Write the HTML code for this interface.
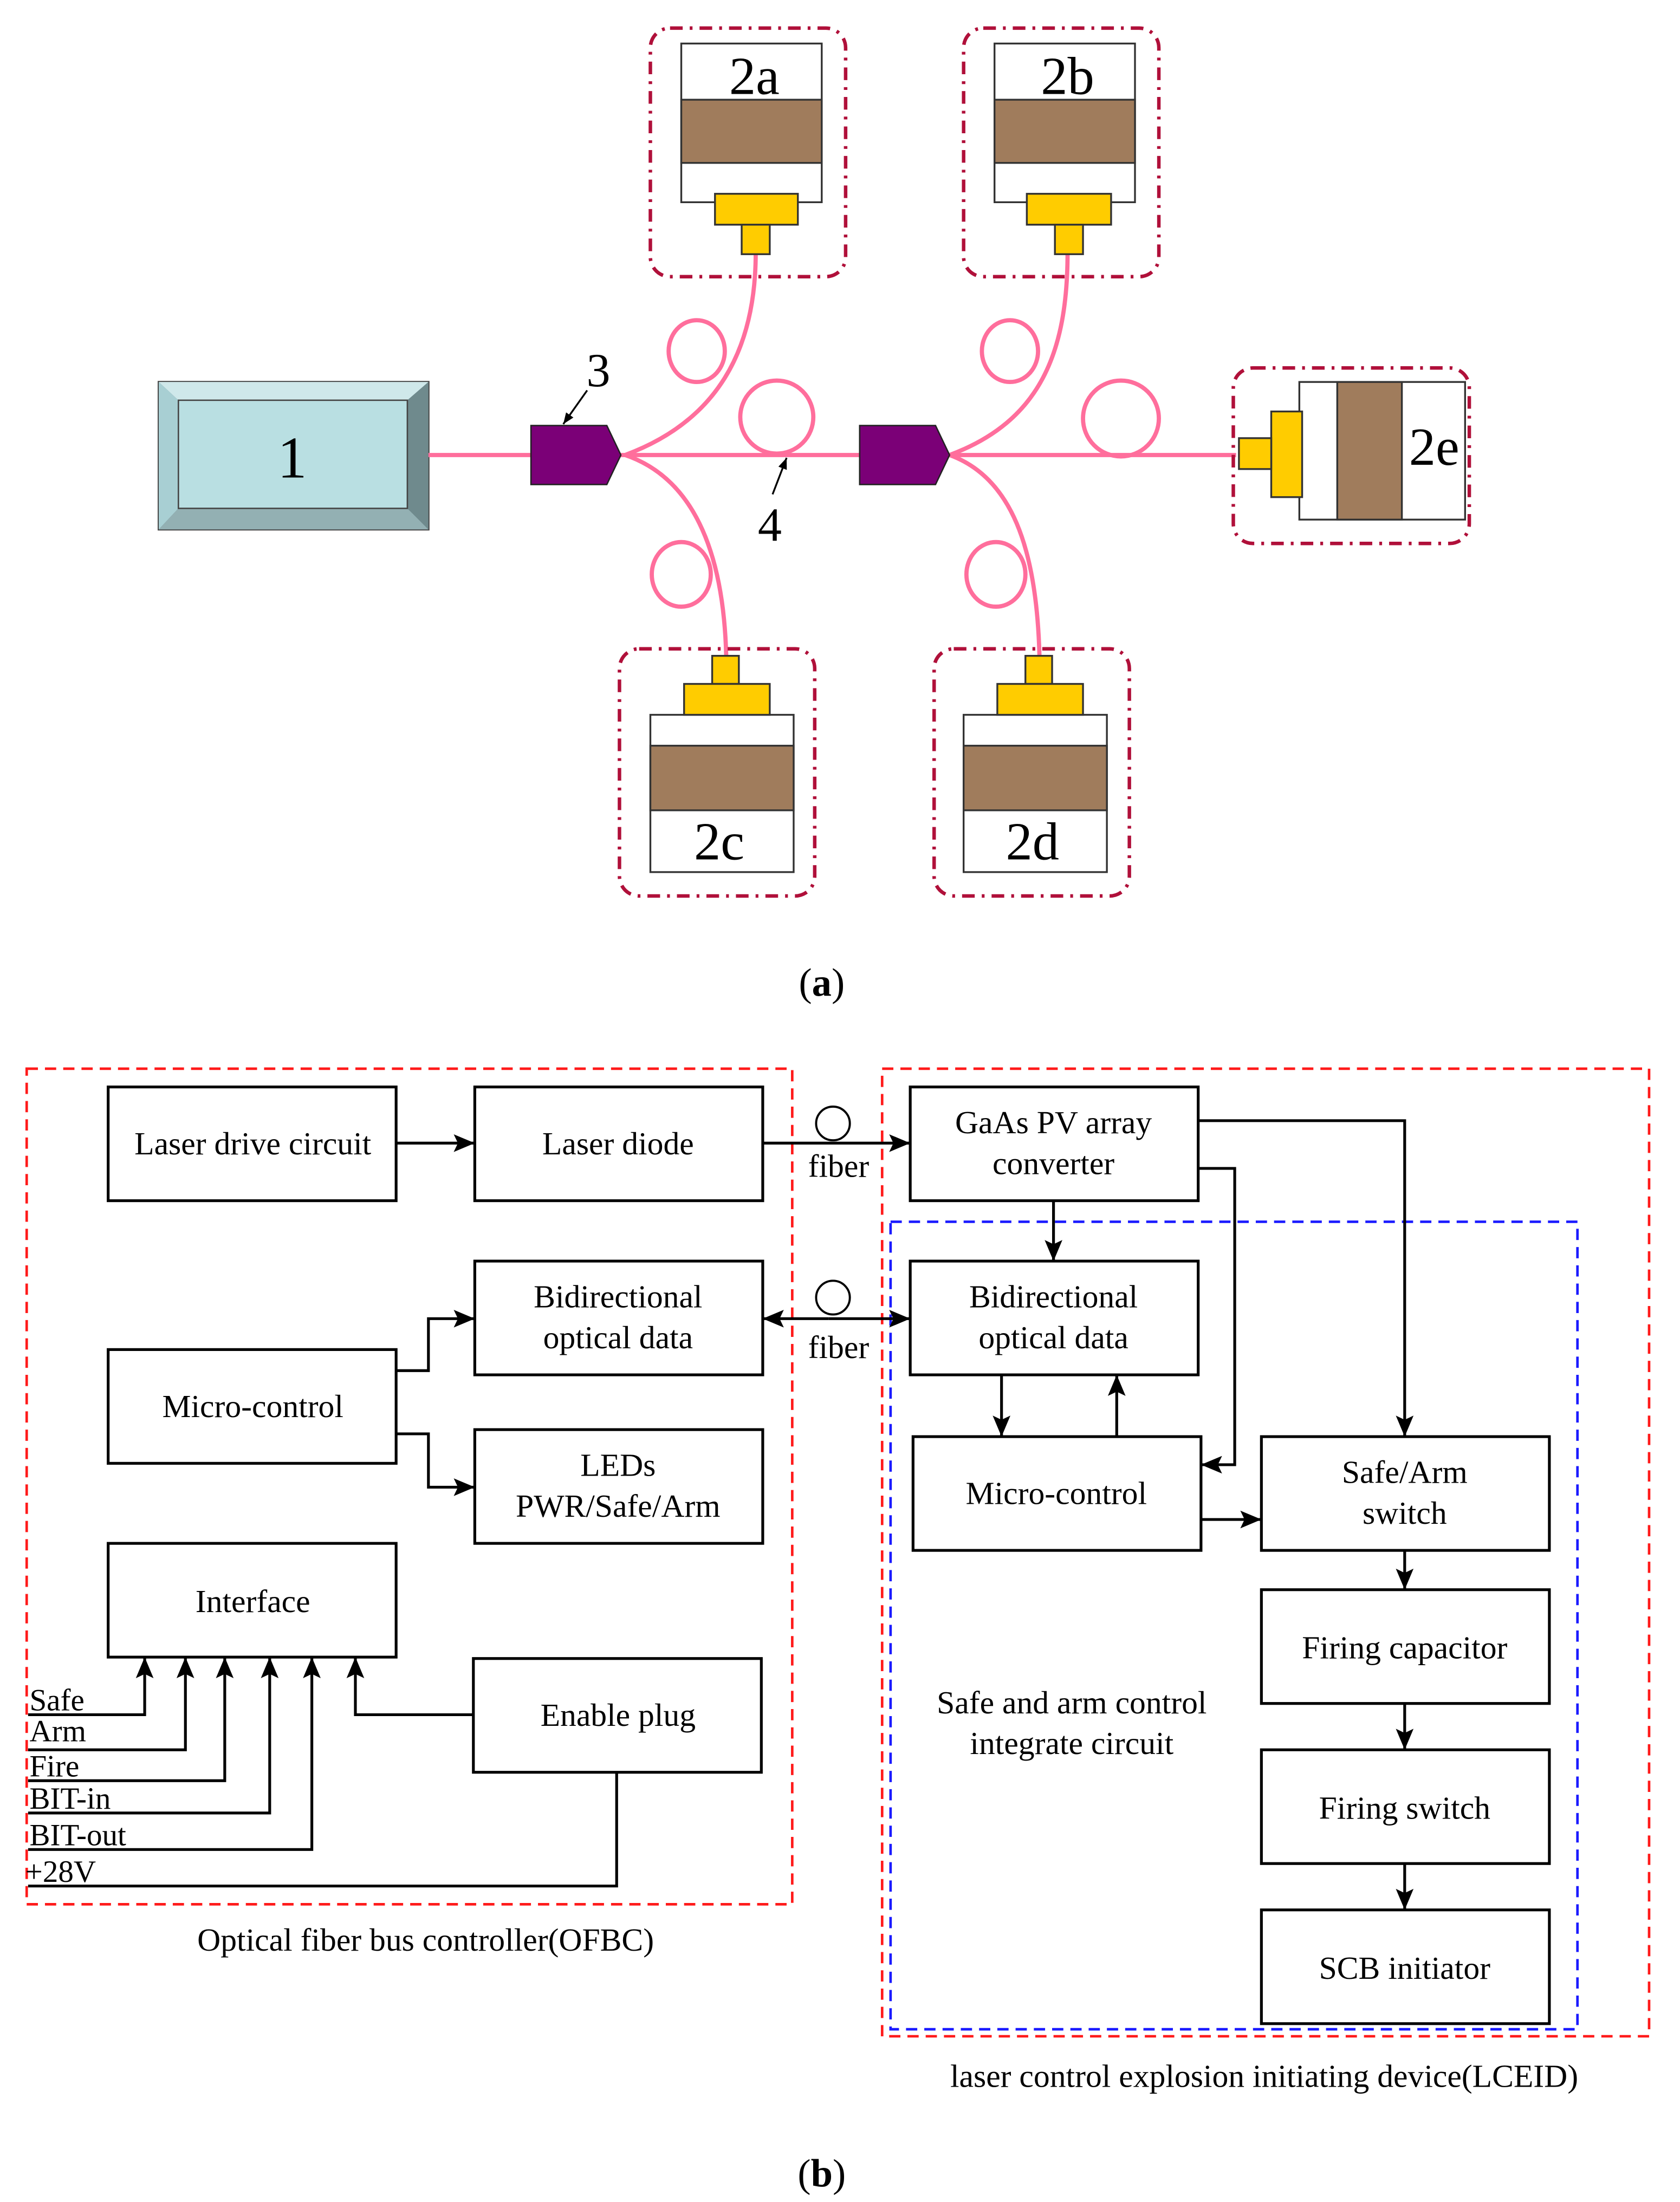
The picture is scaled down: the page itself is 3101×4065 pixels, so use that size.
<!DOCTYPE html>
<html><head><meta charset="utf-8"><style>html,body{margin:0;padding:0;background:#fff}svg{display:block}</style></head>
<body>
<svg width="3101" height="4065" viewBox="0 0 1196 1568" preserveAspectRatio="none" xmlns="http://www.w3.org/2000/svg" font-family="Liberation Serif, serif">
<defs>
<marker id="ah" viewBox="0 0 10 10" refX="10" refY="5" markerWidth="15" markerHeight="15" markerUnits="userSpaceOnUse" orient="auto"><path d="M0,0.8 L10,5 L0,9.2 L2,5 z" fill="#000"/></marker>
<marker id="as" viewBox="0 0 10 10" refX="10" refY="5" markerWidth="8" markerHeight="8" markerUnits="userSpaceOnUse" orient="auto"><path d="M0,1 L10,5 L0,9 z" fill="#000"/></marker>
</defs>
<rect width="1196" height="1568" fill="#fff"/>
<g>
<rect x="113" y="272" width="192" height="105" fill="#6f8a8d" stroke="#444" stroke-width="1.5"/>
<polygon points="113,272 305,272 290,285 127,285" fill="#cfe8ea"/>
<polygon points="113,272 127,285 127,362 113,377" fill="#a8cfd3"/>
<polygon points="113,377 127,362 290,362 305,377" fill="#93b0b3"/>
<polygon points="305,272 290,285 290,362 305,377" fill="#6f8a8d"/>
<rect x="127" y="285" width="163" height="77" fill="#b9dfe2" stroke="#444" stroke-width="1"/>
<text x="208" y="340" font-size="42" text-anchor="middle">1</text>
</g>
<g stroke="#ff6e9c" stroke-width="3" fill="none">
<line x1="305" y1="324" x2="880" y2="324"/>
<circle cx="553" cy="297" r="26"/>
<circle cx="798" cy="298" r="27"/>
<path d="M445,324 C510,300 538,250 538,180"/>
<ellipse cx="496" cy="250" rx="20" ry="22"/>
<path d="M445,324 C492,340 515,390 517,467"/>
<ellipse cx="485" cy="409" rx="21" ry="23"/>
<path d="M676,324 C741,300 760,250 760,180"/>
<ellipse cx="719" cy="250" rx="20" ry="22"/>
<path d="M676,324 C720,340 738,390 740,467"/>
<ellipse cx="709" cy="409" rx="21" ry="23"/>
</g>
<polygon points="378,303 432,303 442,324 432,345 378,345" fill="#7b0077" stroke="#222" stroke-width="1"/>
<polygon points="612,303 666,303 676,324 666,345 612,345" fill="#7b0077" stroke="#222" stroke-width="1"/>
<text x="426" y="275" font-size="34" text-anchor="middle">3</text>
<line x1="418" y1="278" x2="401" y2="302" stroke="#000" stroke-width="1.3" marker-end="url(#as)"/>
<text x="548" y="385" font-size="34" text-anchor="middle">4</text>
<line x1="550" y1="352" x2="560" y2="326" stroke="#000" stroke-width="1.3" marker-end="url(#as)"/>
<g stroke="#b0103a" stroke-width="2.5" fill="none" stroke-dasharray="9,5,2,5">
<rect x="463" y="20" width="139" height="177" rx="14"/>
<rect x="686" y="20" width="139" height="177" rx="14"/>
<rect x="441" y="462" width="139" height="176" rx="14"/>
<rect x="665" y="462" width="139" height="176" rx="14"/>
<rect x="878" y="262" width="168" height="125" rx="14"/>
</g>
<g stroke="#333" stroke-width="1.3">
<rect x="485" y="31" width="100" height="113" fill="#fff"/>
<rect x="485" y="71" width="100" height="45" fill="#a07c5c"/>
<rect x="708" y="31" width="100" height="113" fill="#fff"/>
<rect x="708" y="71" width="100" height="45" fill="#a07c5c"/>
<rect x="463" y="509" width="102" height="112" fill="#fff"/>
<rect x="463" y="531" width="102" height="46" fill="#a07c5c"/>
<rect x="686" y="509" width="102" height="112" fill="#fff"/>
<rect x="686" y="531" width="102" height="46" fill="#a07c5c"/>
<rect x="925" y="272" width="118" height="98" fill="#fff"/>
<rect x="952" y="272" width="46" height="98" fill="#a07c5c"/>
</g>
<g fill="#ffcc00" stroke="#333" stroke-width="1.3">
<rect x="509" y="138" width="59" height="22"/><rect x="528" y="160" width="20" height="21"/>
<rect x="731" y="138" width="60" height="22"/><rect x="751" y="160" width="20" height="21"/>
<rect x="507" y="467" width="19" height="20"/><rect x="487" y="487" width="61" height="22"/>
<rect x="730" y="467" width="19" height="20"/><rect x="710" y="487" width="61" height="22"/>
<rect x="905" y="293" width="22" height="61"/><rect x="882" y="312" width="23" height="22"/>
</g>
<g font-size="38" text-anchor="middle">
<text x="537" y="67">2a</text><text x="760" y="67">2b</text>
<text x="512" y="612">2c</text><text x="735" y="612">2d</text>
<text x="1021" y="331">2e</text>
</g>
<text x="585" y="709" font-size="28" text-anchor="middle">(<tspan font-weight="bold">a</tspan>)</text>

<g fill="none" stroke-width="1.8" stroke-dasharray="8,5">
<rect x="19" y="761" width="545" height="595" stroke="#ff1a1a"/>
<rect x="628" y="761" width="546" height="689" stroke="#ff1a1a"/>
<rect x="634" y="870" width="489" height="575" stroke="#1a1aff"/>
</g>
<g fill="#fff" stroke="#000" stroke-width="2">
<rect x="77" y="774" width="205" height="81"/>
<rect x="338" y="774" width="205" height="81"/>
<rect x="338" y="898" width="205" height="81"/>
<rect x="77" y="961" width="205" height="81"/>
<rect x="338" y="1018" width="205" height="81"/>
<rect x="77" y="1099" width="205" height="81"/>
<rect x="337" y="1181" width="205" height="81"/>
<rect x="648" y="774" width="205" height="81"/>
<rect x="648" y="898" width="205" height="81"/>
<rect x="650" y="1023" width="205" height="81"/>
<rect x="898" y="1023" width="205" height="81"/>
<rect x="898" y="1132" width="205" height="81"/>
<rect x="898" y="1246" width="205" height="81"/>
<rect x="898" y="1360" width="205" height="81"/>
</g>
<g font-size="23" text-anchor="middle" fill="#000">
<text x="180" y="822">Laser drive circuit</text>
<text x="440" y="822">Laser diode</text>
<text x="440" y="931">Bidirectional</text><text x="440" y="960">optical data</text>
<text x="180" y="1009">Micro-control</text>
<text x="440" y="1051">LEDs</text><text x="440" y="1080">PWR/Safe/Arm</text>
<text x="180" y="1148">Interface</text>
<text x="440" y="1229">Enable plug</text>
<text x="750" y="807">GaAs PV array</text><text x="750" y="836">converter</text>
<text x="750" y="931">Bidirectional</text><text x="750" y="960">optical data</text>
<text x="752" y="1071">Micro-control</text>
<text x="1000" y="1056">Safe/Arm</text><text x="1000" y="1085">switch</text>
<text x="1000" y="1181">Firing capacitor</text>
<text x="1000" y="1295">Firing switch</text>
<text x="1000" y="1409">SCB initiator</text>
<text x="763" y="1220">Safe and arm control</text><text x="763" y="1249">integrate circuit</text>
<text x="597" y="838">fiber</text><text x="597" y="967">fiber</text>
<text x="303" y="1389">Optical fiber bus controller(OFBC)</text>
<text x="900" y="1486">laser control explosion initiating device(LCEID)</text>
</g>
<g font-size="22" fill="#000">
<text x="21" y="1218">Safe</text><text x="21" y="1240">Arm</text><text x="21" y="1265">Fire</text>
<text x="21" y="1288">BIT-in</text><text x="21" y="1314">BIT-out</text><text x="18" y="1340">+28V</text>
</g>
<text x="585" y="1557" font-size="28" text-anchor="middle">(<tspan font-weight="bold">b</tspan>)</text>
<g fill="none" stroke="#000" stroke-width="2">
<circle cx="593" cy="800" r="12" stroke-width="1.5"/>
<circle cx="593" cy="924" r="12" stroke-width="1.5"/>
<line x1="282" y1="814" x2="338" y2="814" marker-end="url(#ah)"/>
<line x1="543" y1="814" x2="648" y2="814" marker-end="url(#ah)"/>
<line x1="590" y1="939" x2="543" y2="939" marker-end="url(#ah)"/>
<line x1="590" y1="939" x2="648" y2="939" marker-end="url(#ah)"/>
<polyline points="282,976 305,976 305,939 338,939" marker-end="url(#ah)"/>
<polyline points="282,1021 305,1021 305,1059 338,1059" marker-end="url(#ah)"/>
<line x1="750" y1="855" x2="750" y2="898" marker-end="url(#ah)"/>
<polyline points="853,798 1000,798 1000,1023" marker-end="url(#ah)"/>
<polyline points="853,832 879,832 879,1043 855,1043" marker-end="url(#ah)"/>
<line x1="713" y1="979" x2="713" y2="1023" marker-end="url(#ah)"/>
<line x1="795" y1="1023" x2="795" y2="979" marker-end="url(#ah)"/>
<line x1="855" y1="1082" x2="898" y2="1082" marker-end="url(#ah)"/>
<line x1="1000" y1="1104" x2="1000" y2="1132" marker-end="url(#ah)"/>
<line x1="1000" y1="1213" x2="1000" y2="1246" marker-end="url(#ah)"/>
<line x1="1000" y1="1327" x2="1000" y2="1360" marker-end="url(#ah)"/>
<polyline points="20,1221 103,1221 103,1180" marker-end="url(#ah)"/>
<polyline points="20,1246 132,1246 132,1180" marker-end="url(#ah)"/>
<polyline points="20,1268 160,1268 160,1180" marker-end="url(#ah)"/>
<polyline points="20,1291 192,1291 192,1180" marker-end="url(#ah)"/>
<polyline points="20,1317 222,1317 222,1180" marker-end="url(#ah)"/>
<polyline points="337,1221 253,1221 253,1180" marker-end="url(#ah)"/>
<polyline points="20,1343 439,1343 439,1262"/>
</g>
</svg>
</body></html>
